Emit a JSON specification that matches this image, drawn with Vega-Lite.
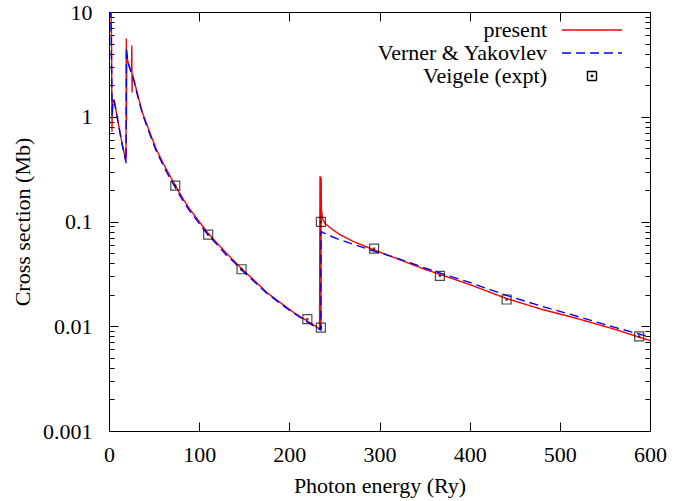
{
  "$schema": "https://vega.github.io/schema/vega-lite/v6.json",
  "autosize": {"type": "none"},
  "padding": {"left": 109, "top": 12, "right": 35, "bottom": 70},
  "width": 541,
  "height": 419,
  "background": "white",
  "config": {
    "font": "Liberation Serif, Times New Roman, serif",
    "view": {"stroke": null},
    "axis": {"grid": false, "domainColor": "black", "tickColor": "black", "labelColor": "black", "titleColor": "black", "labelFontSize": 22, "titleFontSize": 22, "titleFontWeight": "normal", "domainWidth": 1, "tickWidth": 1, "labelFont": "Liberation Serif, Times New Roman, serif", "titleFont": "Liberation Serif, Times New Roman, serif"},
    "legend": {"labelFont": "Liberation Serif, Times New Roman, serif", "labelFontSize": 22, "labelColor": "black", "labelLimit": 0}
  },
  "datasets": {
    "curves": [
      {"series": "present", "E": 1.0, "sigma": 20},
      {"series": "present", "E": 2.0, "sigma": 12},
      {"series": "present", "E": 2.8, "sigma": 6},
      {"series": "present", "E": 3.3, "sigma": 0.72},
      {"series": "present", "E": 3.7, "sigma": 1.2},
      {"series": "present", "E": 4.5, "sigma": 1.45},
      {"series": "present", "E": 5.5, "sigma": 1.45},
      {"series": "present", "E": 7, "sigma": 1.25},
      {"series": "present", "E": 9, "sigma": 1.0},
      {"series": "present", "E": 12, "sigma": 0.72},
      {"series": "present", "E": 15, "sigma": 0.53},
      {"series": "present", "E": 18.8, "sigma": 0.38},
      {"series": "present", "E": 19.0, "sigma": 0.9},
      {"series": "present", "E": 19.2, "sigma": 5.6},
      {"series": "present", "E": 19.4, "sigma": 0.9},
      {"series": "present", "E": 19.6, "sigma": 4.0},
      {"series": "present", "E": 20.5, "sigma": 3.5},
      {"series": "present", "E": 22, "sigma": 3.1},
      {"series": "present", "E": 25.0, "sigma": 2.65},
      {"series": "present", "E": 25.3, "sigma": 4.8},
      {"series": "present", "E": 25.6, "sigma": 1.7},
      {"series": "present", "E": 25.9, "sigma": 2.55},
      {"series": "present", "E": 28, "sigma": 2.2},
      {"series": "present", "E": 32, "sigma": 1.6},
      {"series": "present", "E": 37, "sigma": 1.1},
      {"series": "present", "E": 45, "sigma": 0.72},
      {"series": "present", "E": 52, "sigma": 0.5},
      {"series": "present", "E": 60, "sigma": 0.36},
      {"series": "present", "E": 66, "sigma": 0.29},
      {"series": "present", "E": 73, "sigma": 0.225},
      {"series": "present", "E": 82, "sigma": 0.165},
      {"series": "present", "E": 90, "sigma": 0.13},
      {"series": "present", "E": 100, "sigma": 0.1},
      {"series": "present", "E": 110, "sigma": 0.077},
      {"series": "present", "E": 120, "sigma": 0.062},
      {"series": "present", "E": 130, "sigma": 0.05},
      {"series": "present", "E": 140, "sigma": 0.041},
      {"series": "present", "E": 147, "sigma": 0.0355},
      {"series": "present", "E": 160, "sigma": 0.028},
      {"series": "present", "E": 175, "sigma": 0.021},
      {"series": "present", "E": 190, "sigma": 0.0168},
      {"series": "present", "E": 205, "sigma": 0.0135},
      {"series": "present", "E": 220, "sigma": 0.0112},
      {"series": "present", "E": 230, "sigma": 0.0099},
      {"series": "present", "E": 233.5, "sigma": 0.0094},
      {"series": "present", "E": 234.0, "sigma": 0.27},
      {"series": "present", "E": 234.3, "sigma": 0.0093},
      {"series": "present", "E": 234.6, "sigma": 0.27},
      {"series": "present", "E": 235.0, "sigma": 0.0093},
      {"series": "present", "E": 235.3, "sigma": 0.26},
      {"series": "present", "E": 235.6, "sigma": 0.13},
      {"series": "present", "E": 237, "sigma": 0.105},
      {"series": "present", "E": 240, "sigma": 0.095},
      {"series": "present", "E": 247, "sigma": 0.085},
      {"series": "present", "E": 256, "sigma": 0.075},
      {"series": "present", "E": 270, "sigma": 0.065},
      {"series": "present", "E": 293, "sigma": 0.054},
      {"series": "present", "E": 320, "sigma": 0.044},
      {"series": "present", "E": 350, "sigma": 0.035},
      {"series": "present", "E": 366, "sigma": 0.0315},
      {"series": "present", "E": 400, "sigma": 0.025},
      {"series": "present", "E": 440, "sigma": 0.0185},
      {"series": "present", "E": 480, "sigma": 0.0145},
      {"series": "present", "E": 520, "sigma": 0.0118},
      {"series": "present", "E": 560, "sigma": 0.0094},
      {"series": "present", "E": 600, "sigma": 0.0073},
      {"series": "Verner & Yakovlev", "E": 1.0, "sigma": 20},
      {"series": "Verner & Yakovlev", "E": 2.0, "sigma": 10},
      {"series": "Verner & Yakovlev", "E": 3.0, "sigma": 2.5},
      {"series": "Verner & Yakovlev", "E": 3.6, "sigma": 1.0},
      {"series": "Verner & Yakovlev", "E": 4.2, "sigma": 1.35},
      {"series": "Verner & Yakovlev", "E": 5.5, "sigma": 1.45},
      {"series": "Verner & Yakovlev", "E": 7, "sigma": 1.25},
      {"series": "Verner & Yakovlev", "E": 9, "sigma": 1.0},
      {"series": "Verner & Yakovlev", "E": 12, "sigma": 0.72},
      {"series": "Verner & Yakovlev", "E": 15, "sigma": 0.52},
      {"series": "Verner & Yakovlev", "E": 19.0, "sigma": 0.36},
      {"series": "Verner & Yakovlev", "E": 19.3, "sigma": 4.6},
      {"series": "Verner & Yakovlev", "E": 20.5, "sigma": 3.6},
      {"series": "Verner & Yakovlev", "E": 22, "sigma": 3.1},
      {"series": "Verner & Yakovlev", "E": 25, "sigma": 2.6},
      {"series": "Verner & Yakovlev", "E": 28, "sigma": 2.15},
      {"series": "Verner & Yakovlev", "E": 32, "sigma": 1.55},
      {"series": "Verner & Yakovlev", "E": 37, "sigma": 1.07},
      {"series": "Verner & Yakovlev", "E": 45, "sigma": 0.69},
      {"series": "Verner & Yakovlev", "E": 52, "sigma": 0.48},
      {"series": "Verner & Yakovlev", "E": 60, "sigma": 0.345},
      {"series": "Verner & Yakovlev", "E": 66, "sigma": 0.275},
      {"series": "Verner & Yakovlev", "E": 73, "sigma": 0.215},
      {"series": "Verner & Yakovlev", "E": 82, "sigma": 0.158},
      {"series": "Verner & Yakovlev", "E": 90, "sigma": 0.124},
      {"series": "Verner & Yakovlev", "E": 100, "sigma": 0.096},
      {"series": "Verner & Yakovlev", "E": 110, "sigma": 0.074},
      {"series": "Verner & Yakovlev", "E": 120, "sigma": 0.06},
      {"series": "Verner & Yakovlev", "E": 130, "sigma": 0.048},
      {"series": "Verner & Yakovlev", "E": 140, "sigma": 0.04},
      {"series": "Verner & Yakovlev", "E": 147, "sigma": 0.0345},
      {"series": "Verner & Yakovlev", "E": 160, "sigma": 0.0272},
      {"series": "Verner & Yakovlev", "E": 175, "sigma": 0.0207},
      {"series": "Verner & Yakovlev", "E": 190, "sigma": 0.0165},
      {"series": "Verner & Yakovlev", "E": 205, "sigma": 0.0133},
      {"series": "Verner & Yakovlev", "E": 220, "sigma": 0.011},
      {"series": "Verner & Yakovlev", "E": 230, "sigma": 0.0097},
      {"series": "Verner & Yakovlev", "E": 235, "sigma": 0.0092},
      {"series": "Verner & Yakovlev", "E": 235.2, "sigma": 0.08},
      {"series": "Verner & Yakovlev", "E": 245, "sigma": 0.073},
      {"series": "Verner & Yakovlev", "E": 256, "sigma": 0.067},
      {"series": "Verner & Yakovlev", "E": 270, "sigma": 0.061},
      {"series": "Verner & Yakovlev", "E": 293, "sigma": 0.0525},
      {"series": "Verner & Yakovlev", "E": 320, "sigma": 0.0445},
      {"series": "Verner & Yakovlev", "E": 350, "sigma": 0.036},
      {"series": "Verner & Yakovlev", "E": 366, "sigma": 0.0325},
      {"series": "Verner & Yakovlev", "E": 400, "sigma": 0.0262},
      {"series": "Verner & Yakovlev", "E": 440, "sigma": 0.0198},
      {"series": "Verner & Yakovlev", "E": 480, "sigma": 0.0155},
      {"series": "Verner & Yakovlev", "E": 520, "sigma": 0.0124},
      {"series": "Verner & Yakovlev", "E": 560, "sigma": 0.0098},
      {"series": "Verner & Yakovlev", "E": 600, "sigma": 0.0079}
    ],
    "expt": [
      {"series": "Veigele (expt)", "E": 73.5, "sigma": 0.22},
      {"series": "Veigele (expt)", "E": 110, "sigma": 0.075},
      {"series": "Veigele (expt)", "E": 147, "sigma": 0.035},
      {"series": "Veigele (expt)", "E": 220, "sigma": 0.0117},
      {"series": "Veigele (expt)", "E": 235, "sigma": 0.0097},
      {"series": "Veigele (expt)", "E": 235, "sigma": 0.099},
      {"series": "Veigele (expt)", "E": 294, "sigma": 0.055},
      {"series": "Veigele (expt)", "E": 367, "sigma": 0.0303},
      {"series": "Veigele (expt)", "E": 441, "sigma": 0.018},
      {"series": "Veigele (expt)", "E": 588, "sigma": 0.008}
    ]
  },
  "layer": [
    {
      "data": {"name": "curves"},
      "transform": [{"filter": "datum.series === 'present'"}],
      "mark": {"type": "line", "clip": true, "strokeWidth": 1.4},
      "encoding": {
        "x": {"field": "E", "type": "quantitative", "scale": {"domain": [0, 600], "nice": false, "zero": false},
          "axis": {"orient": "bottom", "values": [0, 100, 200, 300, 400, 500, 600], "format": "d", "tickSize": -9, "labelPadding": 22, "title": "Photon energy (Ry)", "titlePadding": 10, "labelFlush": false, "labelOverlap": false}},
        "y": {"field": "sigma", "type": "quantitative", "scale": {"type": "log", "domain": [0.001, 10], "nice": false},
          "axis": {"orient": "left",
            "values": [0.001,0.002,0.003,0.004,0.005,0.006,0.007,0.008,0.009,0.01,0.02,0.03,0.04,0.05,0.06,0.07,0.08,0.09,0.1,0.2,0.3,0.4,0.5,0.6,0.7,0.8,0.9,1,2,3,4,5,6,7,8,9,10],
            "format": "~g",
            "labelExpr": "(datum.value==10||datum.value==1||datum.value==0.1||datum.value==0.01||datum.value==0.001) ? datum.label : ''",
            "labelOverlap": false, "labelFlush": false,
            "tickSize": {"condition": {"test": "datum.value==10||datum.value==1||datum.value==0.1||datum.value==0.01||datum.value==0.001", "value": -9}, "value": -5},
            "labelPadding": 26, "title": "Cross section (Mb)", "titlePadding": 8}},
        "color": {"field": "series", "type": "nominal", "scale": {"domain": ["present", "Verner & Yakovlev", "Veigele (expt)"], "range": ["#ff0000", "#0000ff", "#000000"]},
          "legend": {"title": null, "orient": "none", "legendX": 472, "legendY": 7, "padding": 0, "labelAlign": "right", "labelOffset": -56, "labelLimit": 0, "symbolSize": 100, "symbolStrokeWidth": 1.4, "rowPadding": 1,
            "encode": {"symbols": {"update": {"fill": {"value": "transparent"}, "stroke": {"scale": "color", "field": "value"}}}}}},
        "strokeDash": {"field": "series", "type": "nominal", "scale": {"domain": ["present", "Verner & Yakovlev", "Veigele (expt)"], "range": [[1, 0], [9, 5], [1, 0]]}, "legend": {"title": null}}
      }
    },
    {
      "data": {"name": "curves"},
      "transform": [{"filter": "datum.series === 'Verner & Yakovlev'"}],
      "mark": {"type": "line", "clip": true, "strokeWidth": 1.4},
      "encoding": {
        "x": {"field": "E", "type": "quantitative", "axis": {"orient": "top", "values": [0, 100, 200, 300, 400, 500, 600], "labels": false, "tickSize": -9, "title": null}},
        "y": {"field": "sigma", "type": "quantitative",
          "axis": {"orient": "right",
            "values": [0.001,0.002,0.003,0.004,0.005,0.006,0.007,0.008,0.009,0.01,0.02,0.03,0.04,0.05,0.06,0.07,0.08,0.09,0.1,0.2,0.3,0.4,0.5,0.6,0.7,0.8,0.9,1,2,3,4,5,6,7,8,9,10],
            "labels": false,
            "tickSize": {"condition": {"test": "datum.value==10||datum.value==1||datum.value==0.1||datum.value==0.01||datum.value==0.001", "value": -9}, "value": -5},
            "title": null}},
        "color": {"field": "series", "type": "nominal"},
        "strokeDash": {"field": "series", "type": "nominal"}
      }
    },
    {
      "data": {"name": "expt"},
      "mark": {"type": "point", "filled": false, "strokeWidth": 1.2, "size": 100, "clip": true},
      "encoding": {
        "x": {"field": "E", "type": "quantitative", "axis": null},
        "y": {"field": "sigma", "type": "quantitative", "axis": null},
        "color": {"field": "series", "type": "nominal"},
        "shape": {"field": "series", "type": "nominal", "scale": {"domain": ["present", "Verner & Yakovlev", "Veigele (expt)"], "range": ["M-6,0H6", "M-6,0H6", "M-0.9,-0.9H0.9V0.9H-0.9Z M-0.12,-0.12H0.12V0.12H-0.12Z"]}, "legend": {"title": null}}
      }
    }
  ],
  "resolve": {"axis": {"x": "independent", "y": "independent"}}
}
